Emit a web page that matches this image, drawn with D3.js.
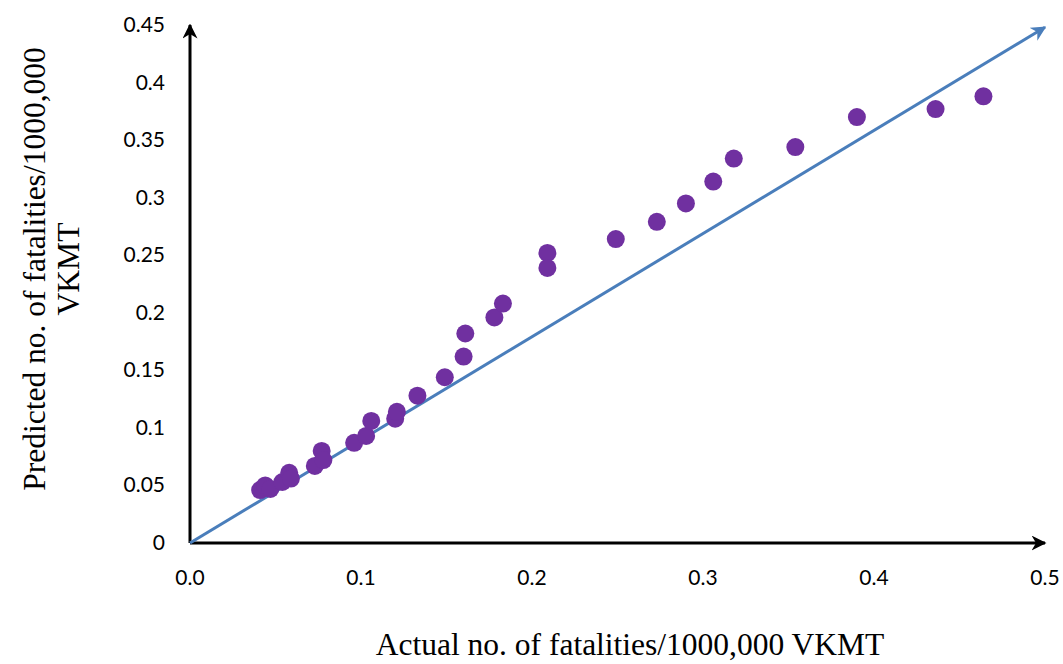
<!DOCTYPE html>
<html>
<head>
<meta charset="utf-8">
<script src="https://cdn.jsdelivr.net/npm/d3@7"></script>
<style>
  html, body { margin: 0; padding: 0; background: #fff; }
  svg { display: block; }
</style>
</head>
<body>
<svg id="chart" width="1063" height="664"></svg>
<script>
// Actual vs predicted fatality rates (per 1,000,000 VKMT)
const actual = [0.041, 0.044, 0.047, 0.054, 0.058, 0.059, 0.073, 0.077, 0.078, 0.096, 0.103, 0.106,
  0.120, 0.121, 0.133, 0.149, 0.160, 0.161, 0.178, 0.183, 0.209, 0.209, 0.249, 0.273, 0.290,
  0.306, 0.318, 0.354, 0.390, 0.436, 0.464];
const predicted = [0.046, 0.050, 0.047, 0.053, 0.061, 0.056, 0.067, 0.080, 0.072, 0.087, 0.093, 0.106,
  0.108, 0.114, 0.128, 0.144, 0.162, 0.182, 0.196, 0.208, 0.252, 0.239, 0.264, 0.279, 0.295,
  0.314, 0.334, 0.344, 0.370, 0.377, 0.388];
const xTicks = [0, 0.1, 0.2, 0.3, 0.4, 0.5];
const yTicks = [0, 0.05, 0.1, 0.15, 0.2, 0.25, 0.3, 0.35, 0.4, 0.45];
// reference arrow drawn from the origin to the top-right corner
const refLine = [[0, 0], [0.5, 0.448]];

const svg = d3.select("#chart");
const x = d3.scaleLinear().domain([0, 0.5]).range([190, 1045]);
const y = d3.scaleLinear().domain([0, 0.45]).range([543, 25]);

const defs = svg.append("defs");
function arrow(id, color) {
  defs.append("marker")
    .attr("id", id)
    .attr("viewBox", "0 0 10 10")
    .attr("refX", 9).attr("refY", 5)
    .attr("markerWidth", 5).attr("markerHeight", 5)
    .attr("markerUnits", "strokeWidth")
    .attr("orient", "auto")
    .append("path")
    .attr("d", "M0,0 L10,5 L0,10 L3,5 Z")
    .attr("fill", color);
}
arrow("arrBlack", "#000");
arrow("arrBlue", "#4a7ebb");

// axes with arrowheads
svg.append("line")
  .attr("x1", x(0)).attr("y1", y(0)).attr("x2", x(0.5)).attr("y2", y(0))
  .attr("stroke", "#000").attr("stroke-width", 3).attr("marker-end", "url(#arrBlack)");
svg.append("line")
  .attr("x1", x(0)).attr("y1", y(0)).attr("x2", x(0)).attr("y2", y(0.45))
  .attr("stroke", "#000").attr("stroke-width", 3).attr("marker-end", "url(#arrBlack)");

// tick labels
const tickFont = "Lato, 'Open Sans', sans-serif";
svg.append("g").selectAll("text").data(xTicks).join("text")
  .attr("x", d => x(d)).attr("y", 585)
  .attr("text-anchor", "middle")
  .attr("font-family", tickFont).attr("font-size", 21)
  .text(d => d3.format(".1f")(d));
svg.append("g").selectAll("text").data(yTicks).join("text")
  .attr("x", 165).attr("y", d => y(d) + 7)
  .attr("text-anchor", "end")
  .attr("font-family", tickFont).attr("font-size", 21)
  .text(d => d === 0 ? "0" : String(d));

// reference arrow
const line = d3.line().x(d => x(d[0])).y(d => y(d[1]));
svg.append("path")
  .datum(refLine)
  .attr("d", line)
  .attr("fill", "none")
  .attr("stroke", "#4a7ebb").attr("stroke-width", 3)
  .attr("marker-end", "url(#arrBlue)");

// data points
svg.append("g").selectAll("circle").data(actual).join("circle")
  .attr("cx", d => x(d))
  .attr("cy", (d, i) => y(predicted[i]))
  .attr("r", 9)
  .attr("fill", "#7030a0");

// axis titles
const titleFont = "'Liberation Serif', 'Times New Roman', serif";
svg.append("text")
  .attr("x", 630).attr("y", 655)
  .attr("text-anchor", "middle")
  .attr("font-family", titleFont).attr("font-size", 31.5)
  .text("Actual no. of fatalities/1000,000 VKMT");
const yt = svg.append("text")
  .attr("transform", "translate(0,269) rotate(-90)")
  .attr("text-anchor", "middle")
  .attr("font-family", titleFont).attr("font-size", 31.5);
yt.append("tspan").attr("x", 0).attr("y", 45).text("Predicted no. of fatalities/1000,000");
yt.append("tspan").attr("x", 0).attr("y", 79).text("VKMT");
</script>
</body>
</html>
